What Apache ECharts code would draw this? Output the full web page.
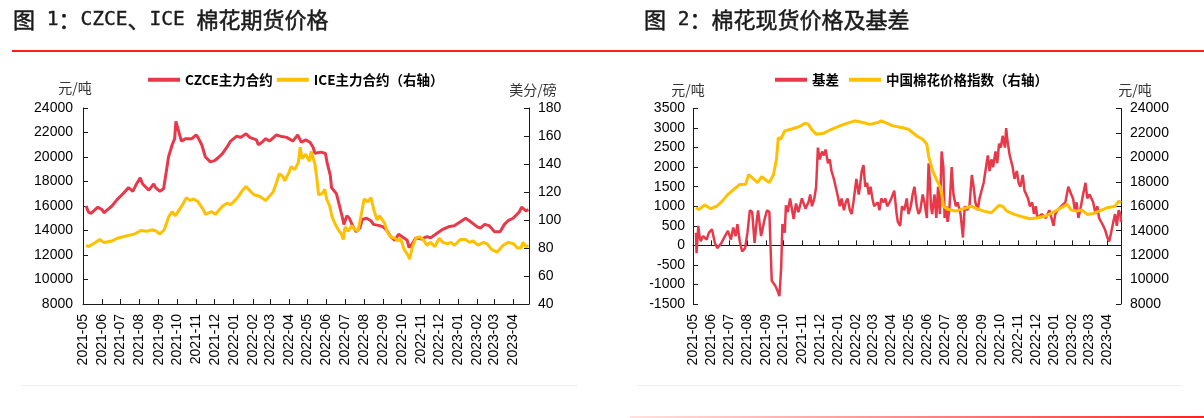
<!DOCTYPE html>
<html><head><meta charset="utf-8">
<script src="https://cdn.jsdelivr.net/npm/echarts@6/dist/echarts.min.js"></script>
<style>html,body{margin:0;padding:0;background:#fff}#c{width:1204px;height:418px}</style>
</head><body><div id="c"></div>
<script>
// ---------- tick labels ----------
const monthLabels = ['2021-05','2021-06','2021-07','2021-08','2021-09','2021-10','2021-11','2021-12',
  '2022-01','2022-02','2022-03','2022-04','2022-05','2022-06','2022-07','2022-08','2022-09','2022-10','2022-11','2022-12',
  '2023-01','2023-02','2023-03','2023-04'];

// ---------- chart 1: CZCE (yuan/ton) ----------
const czceDates = ['2021-05-06','2021-05-10','2021-05-14','2021-05-25','2021-06-01','2021-06-04','2021-06-10','2021-06-17','2021-06-25',
  '2021-07-05','2021-07-14','2021-07-21','2021-07-27','2021-08-02','2021-08-06','2021-08-16','2021-08-24','2021-08-27','2021-09-03',
  '2021-09-09','2021-09-14','2021-09-17','2021-09-23','2021-09-27','2021-09-29','2021-10-08','2021-10-15','2021-10-25','2021-11-01',
  '2021-11-05','2021-11-10','2021-11-16','2021-11-24','2021-12-01','2021-12-08','2021-12-14','2021-12-21','2021-12-27','2022-01-06',
  '2022-01-12','2022-01-21','2022-01-27','2022-02-07','2022-02-10','2022-02-16','2022-02-22','2022-02-28','2022-03-07','2022-03-11',
  '2022-03-18','2022-03-28','2022-04-07','2022-04-15','2022-04-21','2022-04-28','2022-05-05','2022-05-10','2022-05-13','2022-05-23',
  '2022-05-30','2022-06-02','2022-06-07','2022-06-09','2022-06-17','2022-06-22','2022-06-27','2022-06-29','2022-07-04','2022-07-08',
  '2022-07-14','2022-07-19','2022-07-25','2022-07-29','2022-08-05','2022-08-12','2022-08-16','2022-08-26','2022-09-01','2022-09-07',
  '2022-09-13','2022-09-20','2022-09-26','2022-10-10','2022-10-13','2022-10-18','2022-10-24','2022-11-02','2022-11-11','2022-11-17',
  '2022-11-28','2022-12-07','2022-12-16','2022-12-26','2023-01-04','2023-01-13','2023-01-19','2023-02-01','2023-02-06','2023-02-13',
  '2023-02-20','2023-03-01','2023-03-10','2023-03-17','2023-03-23','2023-03-31','2023-04-10','2023-04-14','2023-04-21','2023-04-25'];
const czceValues = [16000,15500,15400,15900,15700,15450,15700,16000,16500,
  17000,17500,17200,17800,18300,17800,17300,17800,17500,17200,
  17400,19000,20000,21000,21500,22900,21300,21500,21500,21800,
  21500,21000,20000,19600,19700,20000,20300,20800,21300,21700,
  21600,21900,21600,21400,21000,21200,21500,21300,21600,21800,
  21700,21600,21300,21800,21200,21400,21200,20800,20300,20400,
  20300,19500,18500,17500,17000,16000,15000,14500,15200,15000,
  14300,13900,14200,14900,15000,14800,14500,14400,14300,14000,
  13500,13200,13700,13200,12600,12900,13400,13300,13500,13400,
  13800,14100,14300,14400,14700,15000,14800,14300,14200,14500,
  14400,13900,13900,14500,14800,15000,15500,15900,15600,15700];

// ---------- chart 1: ICE (cents/lb, right axis) ----------
const iceDates = ['2021-05-06','2021-05-10','2021-05-21','2021-05-28','2021-06-04','2021-06-17','2021-06-26','2021-07-05','2021-07-14',
  '2021-07-24','2021-08-03','2021-08-13','2021-08-22','2021-08-28','2021-09-03','2021-09-10','2021-09-14','2021-09-18','2021-09-23',
  '2021-09-28','2021-10-04','2021-10-10','2021-10-16','2021-10-22','2021-10-28','2021-11-04','2021-11-07','2021-11-13','2021-11-16',
  '2021-11-26','2021-12-02','2021-12-08','2021-12-14','2021-12-21','2021-12-27','2022-01-03','2022-01-09','2022-01-15','2022-01-21',
  '2022-01-27','2022-02-03','2022-02-12','2022-02-22','2022-02-28','2022-03-06','2022-03-11','2022-03-16','2022-03-22','2022-03-25',
  '2022-04-01','2022-04-04','2022-04-10','2022-04-16','2022-04-19','2022-04-22','2022-04-28','2022-05-04','2022-05-07','2022-05-13',
  '2022-05-16','2022-05-19','2022-05-25','2022-05-29','2022-06-01','2022-06-06','2022-06-10','2022-06-15','2022-06-20','2022-06-25',
  '2022-06-28','2022-07-01','2022-07-06','2022-07-12','2022-07-15','2022-07-22','2022-07-27','2022-08-01','2022-08-07','2022-08-12',
  '2022-08-17','2022-08-22','2022-08-26','2022-08-29','2022-09-03','2022-09-07','2022-09-13','2022-09-20','2022-09-26','2022-09-29',
  '2022-10-05','2022-10-11','2022-10-14','2022-10-18','2022-10-24','2022-10-30','2022-11-05','2022-11-11','2022-11-17','2022-11-24',
  '2022-12-01','2022-12-07','2022-12-14','2022-12-20','2022-12-26','2023-01-04','2023-01-07','2023-01-13','2023-01-19','2023-01-25',
  '2023-02-02','2023-02-11','2023-02-17','2023-02-24','2023-03-05','2023-03-15','2023-03-23','2023-04-01','2023-04-07','2023-04-13',
  '2023-04-16','2023-04-21','2023-04-25'];
const iceValues = [82,81,84,86,84,85,87,88,89,
  90,92.5,92,93,92,90,93,98,103,106,
  103,107,111,116,114,115,113,112,107,104,
  106,104,107,110,112,111,114,117,121,124,
  121,118,117,114,117,120,126,133,131,128,
  134,138,136,141,152,144,147,142,149,140,
  130,118,119,122,115,110,102,97,93,90,
  86,95,92,96,94,92,103,115,113,116,
  107,100,103,104,98,92,88,87,85,87,
  79,75,72,80,87,88,86,82,84,81,
  87,84,83,84,82,86,87,86,84,85,
  82,84,83,79,77,82,84,83,80,80,
  84,81,82];

// ---------- chart 2: basis (yuan/ton, left axis) ----------
const basisDates = ['2021-05-06','2021-05-07','2021-05-10','2021-05-12','2021-05-14','2021-05-18','2021-05-24','2021-05-28','2021-06-02',
  '2021-06-07','2021-06-11','2021-06-18','2021-06-24','2021-06-29','2021-07-04','2021-07-08','2021-07-12','2021-07-15','2021-07-19',
  '2021-07-23','2021-07-28','2021-08-01','2021-08-05','2021-08-09','2021-08-13','2021-08-17','2021-08-19','2021-08-24','2021-08-30',
  '2021-09-03','2021-09-07','2021-09-11','2021-09-17','2021-09-21','2021-09-24','2021-09-27','2021-09-29','2021-10-03','2021-10-05',
  '2021-10-08','2021-10-12','2021-10-18','2021-10-22','2021-10-26','2021-11-01','2021-11-07','2021-11-12','2021-11-15','2021-11-18',
  '2021-11-22','2021-11-25','2021-11-28','2021-12-01','2021-12-05','2021-12-08','2021-12-11','2021-12-15','2021-12-18','2021-12-21',
  '2021-12-25','2021-12-28','2021-12-31','2022-01-04','2022-01-07','2022-01-11','2022-01-14','2022-01-17','2022-01-21','2022-01-24',
  '2022-01-27','2022-02-01','2022-02-05','2022-02-07','2022-02-10','2022-02-13','2022-02-16','2022-02-19','2022-02-22','2022-02-25',
  '2022-02-28','2022-03-03','2022-03-09','2022-03-12','2022-03-15','2022-03-19','2022-03-22','2022-03-25','2022-03-29','2022-04-01',
  '2022-04-06','2022-04-10','2022-04-12','2022-04-16','2022-04-19','2022-04-23','2022-04-27','2022-04-30','2022-05-04','2022-05-07',
  '2022-05-10','2022-05-14','2022-05-17','2022-05-20','2022-05-24','2022-05-27','2022-05-31','2022-06-03','2022-06-05','2022-06-07',
  '2022-06-09','2022-06-13','2022-06-16','2022-06-19','2022-06-22','2022-06-25','2022-06-28','2022-06-30','2022-07-03','2022-07-05',
  '2022-07-08','2022-07-12','2022-07-15','2022-07-19','2022-07-22','2022-07-27','2022-07-31','2022-08-03','2022-08-07','2022-08-11',
  '2022-08-15','2022-08-18','2022-08-21','2022-08-25','2022-08-28','2022-09-04','2022-09-11','2022-09-14','2022-09-17','2022-09-20',
  '2022-09-24','2022-09-27','2022-09-30','2022-10-03','2022-10-06','2022-10-10','2022-10-12','2022-10-14','2022-10-18','2022-10-23',
  '2022-10-26','2022-10-30','2022-11-02','2022-11-05','2022-11-09','2022-11-12','2022-11-15','2022-11-18','2022-11-21','2022-11-25',
  '2022-11-28','2022-12-01','2022-12-04','2022-12-11','2022-12-18','2022-12-24','2022-12-31','2023-01-03','2023-01-07','2023-01-13',
  '2023-01-20','2023-01-25','2023-01-30','2023-02-02','2023-02-05','2023-02-08','2023-02-11','2023-02-14','2023-02-19','2023-02-23',
  '2023-02-26','2023-03-02','2023-03-05','2023-03-08','2023-03-12','2023-03-15','2023-03-18','2023-03-25','2023-03-28','2023-04-01',
  '2023-04-04','2023-04-07','2023-04-11','2023-04-14','2023-04-17','2023-04-20','2023-04-23','2023-04-24'];
const basisValues = [325,-200,500,237,105,237,150,325,412,
  60,-70,60,237,370,150,456,237,544,105,
  -158,-70,325,895,850,60,675,895,237,675,
  895,850,-905,-1035,-1167,-1300,-553,544,325,1026,
  850,1200,675,1070,850,1200,940,1100,1300,1000,
  1200,1500,2500,2200,2400,2300,2450,2100,2200,1900,
  1700,1500,1300,1000,1200,900,1100,1200,900,800,
  1100,1700,1300,1500,1900,2050,1500,1600,1300,1500,
  1200,1000,1100,900,1200,1100,1200,1000,1100,1200,
  1400,800,600,500,1000,900,1200,800,1000,1300,
  1500,1000,800,900,1300,1100,700,2100,1700,1000,
  800,1300,700,1500,800,2400,2000,700,1000,600,
  900,2000,1300,1000,1100,800,200,1000,900,1000,
  1800,1500,1100,900,1200,1600,2300,1900,2200,2000,
  2400,2100,2600,2500,2800,2500,3000,2700,2300,2000,
  1700,1900,1600,1500,1800,1400,1300,1200,1000,1100,
  800,1000,700,800,700,900,500,800,900,1000,
  1100,1500,1300,1200,900,1100,700,900,1300,1600,
  1200,1300,1200,1100,800,1000,700,500,400,200,
  100,300,600,800,500,900,800,600];

// ---------- chart 2: China cotton price index (yuan/ton, right axis) ----------
const indexDates = ['2021-05-06','2021-05-11','2021-05-21','2021-05-31','2021-06-10','2021-06-19','2021-06-29','2021-07-09','2021-07-19',
  '2021-07-29','2021-08-03','2021-08-12','2021-08-18','2021-08-25','2021-09-01','2021-09-07','2021-09-14','2021-09-19','2021-09-22',
  '2021-09-26','2021-10-03','2021-10-13','2021-10-23','2021-10-30','2021-11-06','2021-11-12','2021-11-17','2021-11-25','2021-12-08',
  '2021-12-21','2022-01-04','2022-01-17','2022-01-30','2022-02-12','2022-02-24','2022-03-09','2022-03-15','2022-03-22','2022-04-04',
  '2022-04-18','2022-04-30','2022-05-14','2022-05-24','2022-05-31','2022-06-03','2022-06-06','2022-06-09','2022-06-16','2022-06-22',
  '2022-06-25','2022-06-28','2022-07-05','2022-07-19','2022-08-01','2022-08-14','2022-08-24','2022-09-04','2022-09-17','2022-09-30',
  '2022-10-06','2022-10-13','2022-10-26','2022-11-08','2022-11-21','2022-12-04','2022-12-18','2022-12-31','2023-01-13','2023-01-23',
  '2023-01-30','2023-02-08','2023-02-17','2023-02-26','2023-03-08','2023-03-18','2023-04-01','2023-04-14','2023-04-20','2023-04-24'];
const indexValues = [15880,15740,16100,15800,16000,16400,16970,17380,17790,
  17800,18600,18200,17930,18420,18150,17930,18600,19840,21620,
  21480,22170,22300,22440,22580,22800,22700,22300,21900,21980,
  22300,22580,22800,22990,22850,22700,22850,22990,22850,22580,
  22440,22300,21750,21480,21070,20110,19570,19020,18200,17650,
  17100,16000,15750,15600,15800,16000,15800,15600,15470,16070,
  16000,15600,15330,15140,14980,15060,15200,15520,15880,16150,
  15690,15600,15690,15330,15410,15600,15880,16000,16420,16280];

// ---------- build ----------
function toTs(s){ const p = s.split('-'); return new Date(+p[0], +p[1]-1, p[2] ? +p[2] : 1).getTime(); }
const monthTs = monthLabels.map(toTs);
function pairs(d, v){ return d.map((x, i) => [toTs(x), v[i]]); }
function monthLabel(v){ const i = monthTs.indexOf(v); if (i >= 0) return monthLabels[i]; const d = new Date(v); return d.getFullYear() + '-' + String(d.getMonth()+1).padStart(2,'0'); }

const RED = '#E8394B', YEL = '#FFC000', AX = '#1a1a1a';
const axisFont = {fontSize: 14, fontFamily: 'Liberation Sans, Arial, sans-serif', color: '#000'};

function xTime(grid, max, opts){
  const base = {
    type: 'value', gridIndex: grid, min: toTs('2021-05-01'), max: toTs(max), position: 'bottom', scale: true,
    axisLine: {show: true, onZero: false, lineStyle: {color: AX, width: 1}},
    axisTick: {show: true, inside: true, length: 5, customValues: monthTs, lineStyle: {color: AX}},
    axisLabel: Object.assign({show: true, rotate: 90, margin: 10, customValues: monthTs, formatter: monthLabel,
      showMinLabel: true, showMaxLabel: true, hideOverlap: false}, axisFont),
    splitLine: {show: false}, minorTick: {show: false}
  };
  return Object.assign(base, opts || {});
}
function yVal(grid, pos, min, max, interval, margin){
  return {
    type: 'value', gridIndex: grid, position: pos, min: min, max: max, interval: interval,
    axisLine: {show: true, onZero: false, lineStyle: {color: AX, width: 1}},
    axisTick: {show: true, inside: true, length: 5, lineStyle: {color: AX}},
    axisLabel: Object.assign({margin: margin, formatter: v => String(v)}, axisFont),
    splitLine: {show: false}
  };
}

const legendText = {fontSize: 13.5, fontWeight: 'bold', fontFamily: 'Noto Sans CJK SC, sans-serif', color: '#000'};
const titleBase = {fontFamily: 'DejaVu Sans Mono, monospace', fontSize: 19.5, color: '#1a1a1a', fontWeight: 'normal',
  textBorderColor: '#1a1a1a', textBorderWidth: 0.4,
  rich: {c: {fontFamily: 'Noto Sans CJK SC, sans-serif', fontSize: 22, color: '#1a1a1a', textBorderColor: '#1a1a1a', textBorderWidth: 0.5}}};
const unitStyle = {fontSize: 14, fontFamily: 'Noto Sans CJK SC, sans-serif', fill: '#333', textAlign: 'center', textVerticalAlign: 'middle'};

const option = {
  animation: false,
  backgroundColor: '#fff',
  title: [
    {text: '{c|图} 1{c|：}CZCE{c|、}ICE {c|棉花期货价格}', left: 13, top: 9, padding: 0, textStyle: titleBase},
    {text: '{c|图} 2{c|：棉花现货价格及基差}', left: 644, top: 9, padding: 0, textStyle: titleBase}
  ],
  legend: [
    {data: ['CZCE主力合约', 'ICE主力合约（右轴）'], left: 148, top: 73, padding: 0, itemWidth: 32, itemHeight: 4,
      itemGap: 4, icon: 'rect', selectedMode: false, textStyle: legendText},
    {data: ['基差', '中国棉花价格指数（右轴）'], left: 775, top: 73, padding: 0, itemWidth: 32, itemHeight: 4,
      itemGap: 10, icon: 'rect', selectedMode: false, textStyle: legendText}
  ],
  grid: [
    {left: 83, top: 108, width: 446, height: 196, containLabel: false},
    {left: 693, top: 108.5, width: 428, height: 195.5, containLabel: false}
  ],
  xAxis: [
    xTime(0, '2023-04-26'),
    xTime(1, '2023-04-24', {axisLine: {show: true, onZero: true, lineStyle: {color: AX, width: 1}},
      axisLabel: {show: false, customValues: monthTs}}),
    xTime(1, '2023-04-24', {axisLine: {show: false, onZero: false}, axisTick: {show: false, customValues: monthTs}})
  ],
  yAxis: [
    yVal(0, 'left', 8000, 24000, 2000, 10),
    yVal(0, 'right', 40, 180, 20, 9),
    yVal(1, 'left', -1500, 3500, 500, 8),
    yVal(1, 'right', 8000, 24000, 2000, 9)
  ],
  series: [
    {name: 'CZCE主力合约', type: 'line', xAxisIndex: 0, yAxisIndex: 0, data: pairs(czceDates, czceValues),
      showSymbol: false, symbol: 'none', color: RED, lineStyle: {color: RED, width: 3}},
    {name: 'ICE主力合约（右轴）', type: 'line', xAxisIndex: 0, yAxisIndex: 1, data: pairs(iceDates, iceValues),
      showSymbol: false, symbol: 'none', color: YEL, lineStyle: {color: YEL, width: 3}},
    {name: '基差', type: 'line', xAxisIndex: 1, yAxisIndex: 2, data: pairs(basisDates, basisValues),
      showSymbol: false, symbol: 'none', color: RED, lineStyle: {color: RED, width: 2.5}},
    {name: '中国棉花价格指数（右轴）', type: 'line', xAxisIndex: 1, yAxisIndex: 3, data: pairs(indexDates, indexValues),
      showSymbol: false, symbol: 'none', color: YEL, lineStyle: {color: YEL, width: 3}}
  ],
  graphic: [
    {type: 'line', silent: true, shape: {x1: 12, y1: 51, x2: 1204, y2: 51}, style: {stroke: '#FF1F1F', lineWidth: 2}},
    {type: 'line', silent: true, shape: {x1: 21, y1: 385.5, x2: 577, y2: 385.5}, style: {stroke: '#EDEDED', lineWidth: 1}},
    {type: 'line', silent: true, shape: {x1: 637, y1: 385.5, x2: 1180, y2: 385.5}, style: {stroke: '#EDEDED', lineWidth: 1}},
    {type: 'line', silent: true, shape: {x1: 630, y1: 417, x2: 1204, y2: 417},
      style: {lineWidth: 2, stroke: new echarts.graphic.LinearGradient(0, 0, 1, 0, [{offset: 0, color: 'rgba(255,60,60,0.15)'}, {offset: 1, color: '#FF1F1F'}])}},
    {type: 'text', silent: true, x: 75, y: 88, style: Object.assign({text: '元/吨'}, unitStyle)},
    {type: 'text', silent: true, x: 533, y: 90, style: Object.assign({text: '美分/磅'}, unitStyle)},
    {type: 'text', silent: true, x: 688, y: 90, style: Object.assign({text: '元/吨'}, unitStyle)},
    {type: 'text', silent: true, x: 1135, y: 90, style: Object.assign({text: '元/吨'}, unitStyle)}
  ]
};

const chart = echarts.init(document.getElementById('c'), null, {renderer: 'canvas'});
chart.setOption(option);
</script>
</body></html>
